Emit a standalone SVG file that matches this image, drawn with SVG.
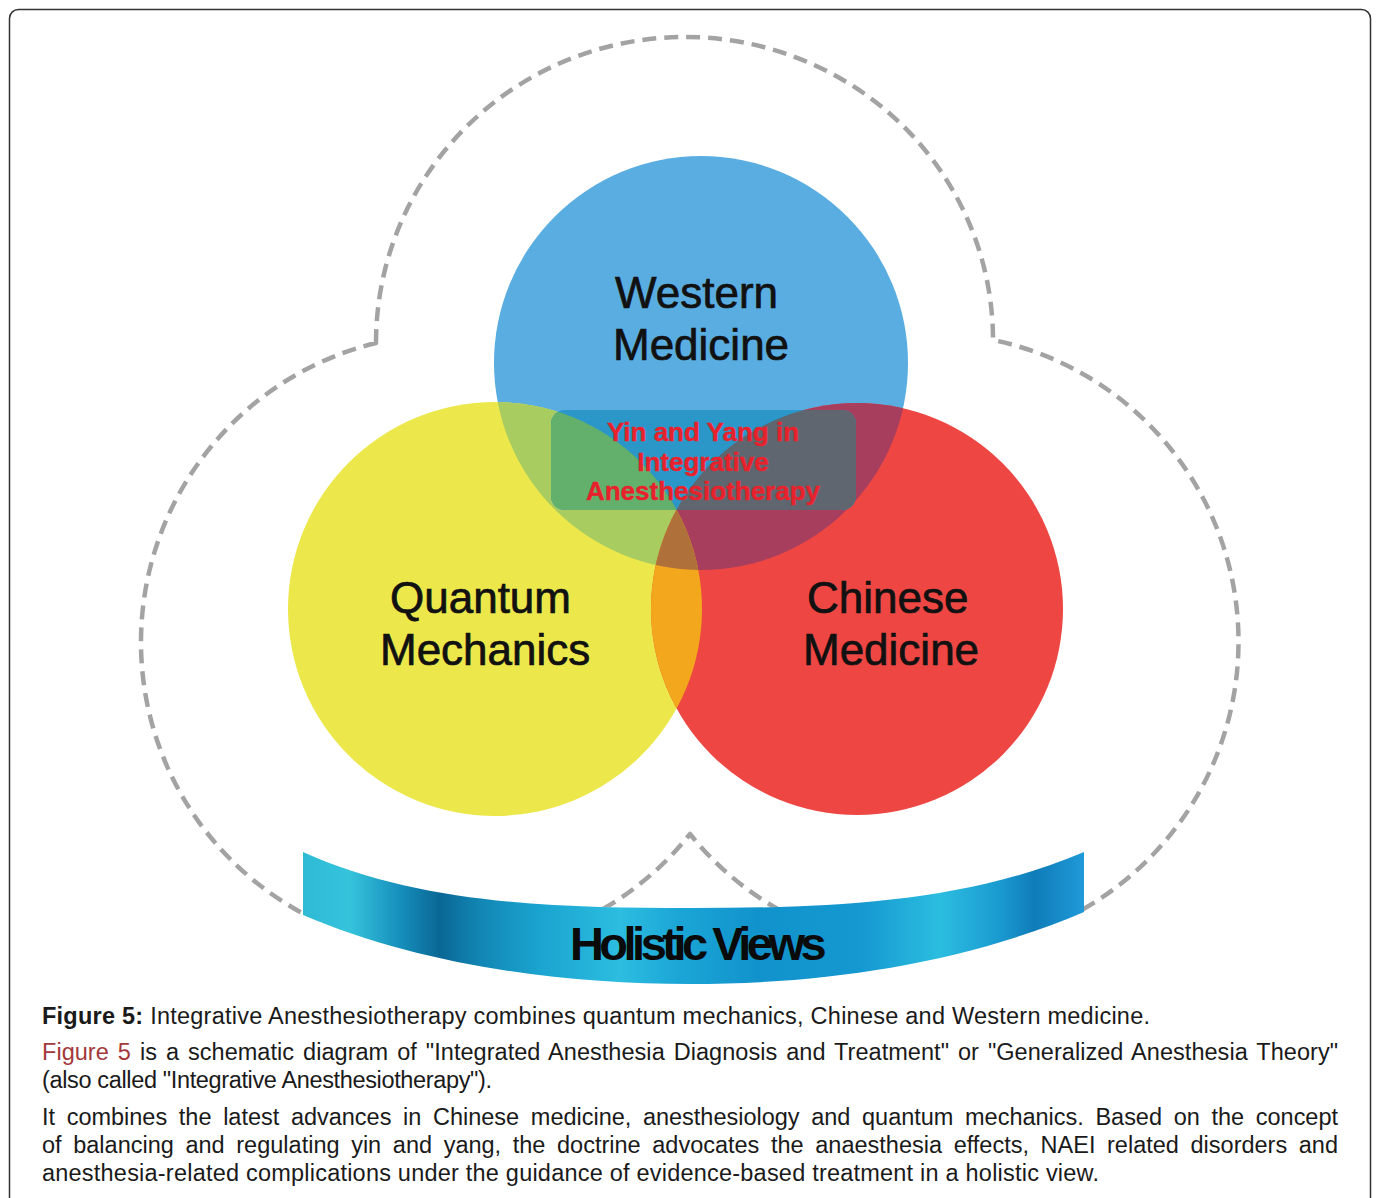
<svg xmlns="http://www.w3.org/2000/svg" width="1376" height="1198" viewBox="0 0 1376 1198">
  <style>
    .label { font-family: "Liberation Sans", Arial, sans-serif; font-size: 44px; fill: #111; stroke: #111; stroke-width: 0.7px; }
    .core { font-family: "Liberation Sans", Arial, sans-serif; font-size: 26px; font-weight: bold; fill: #e8222c; stroke: #e8222c; stroke-width: 0.4px; text-anchor: middle; }
    .cap { font-family: "Liberation Sans", Arial, sans-serif; font-size: 23.5px; fill: #1a1a1a; }
    .dash { fill: none; stroke: #a3a3a3; stroke-width: 4.5; stroke-dasharray: 14 8; stroke-linejoin: round; }
  </style>
  <defs>
    <clipPath id="clipBlue"><circle cx="701" cy="363" r="207"/></clipPath>
    <clipPath id="clipYellow"><circle cx="495" cy="609" r="207"/></clipPath>
    <clipPath id="clipRed"><circle cx="857" cy="609" r="206"/></clipPath>
    <clipPath id="clipPanel"><rect x="551" y="410" width="305" height="100" rx="14"/></clipPath>
    <!-- hides the boundary where it runs behind the ribbon -->
    <mask id="ribbonHide" maskUnits="userSpaceOnUse" x="0" y="0" width="1376" height="1198">
      <rect width="1376" height="1198" fill="#fff"/>
      <path d="M 303 852 C 420 905 560 908 690 908 C 820 908 960 905 1084 852 L 1084 1198 L 303 1198 Z" fill="#000"/>
    </mask>
    <linearGradient id="ribbonGrad" gradientUnits="userSpaceOnUse" x1="303" y1="0" x2="1084" y2="0">
      <stop offset="0" stop-color="#2fbad6"/>
      <stop offset="0.06" stop-color="#35c3dc"/>
      <stop offset="0.124" stop-color="#168fbc"/>
      <stop offset="0.175" stop-color="#0a6795"/>
      <stop offset="0.227" stop-color="#1286b4"/>
      <stop offset="0.30" stop-color="#1aa3cf"/>
      <stop offset="0.406" stop-color="#2cbde0"/>
      <stop offset="0.483" stop-color="#1ba5d6"/>
      <stop offset="0.585" stop-color="#1192cc"/>
      <stop offset="0.713" stop-color="#1598d0"/>
      <stop offset="0.815" stop-color="#2bbde0"/>
      <stop offset="0.892" stop-color="#1a9ad0"/>
      <stop offset="0.937" stop-color="#0f7cb8"/>
      <stop offset="1" stop-color="#1f9ad9"/>
    </linearGradient>
  </defs>

  <rect width="1376" height="1198" fill="#ffffff"/>
  <!-- page frame -->
  <rect x="9.5" y="9.5" width="1361" height="1210" rx="9" fill="none" stroke="#333" stroke-width="1.5"/>

  <!-- dashed cloverleaf boundary -->
  <g id="boundary" mask="url(#ribbonHide)">
    <path class="dash" d="M 376 343 A 309 306 0 0 1 685 37 A 308 303 0 0 1 993 340 A 308 308 0 1 1 690 834 A 308 308 0 1 1 376 343 Z"/>
  </g>

  <!-- three fields -->
  <g id="western"><circle cx="701" cy="363" r="207" fill="#5aade1"/></g>
  <g id="quantum"><circle cx="495" cy="609" r="207" fill="#ece84b"/></g>
  <g id="chinese"><circle cx="857" cy="609" r="206" fill="#ee4743"/></g>

  <!-- overlap lenses -->
  <g id="overlaps">
    <circle cx="495" cy="609" r="207" fill="#a9cc60" clip-path="url(#clipBlue)"/>
    <circle cx="857" cy="609" r="206" fill="#a73e5e" clip-path="url(#clipBlue)"/>
    <circle cx="857" cy="609" r="206" fill="#f2a71d" clip-path="url(#clipYellow)"/>
    <g clip-path="url(#clipBlue)">
      <circle cx="857" cy="609" r="206" fill="#b0703a" clip-path="url(#clipYellow)"/>
    </g>
  </g>

  <!-- central integration panel -->
  <g id="core">
    <rect x="551" y="410" width="305" height="100" rx="14" fill="#2b97c9"/>
    <g clip-path="url(#clipPanel)">
      <circle cx="495" cy="609" r="207" fill="#62b06c"/>
      <circle cx="857" cy="609" r="206" fill="#5f6670"/>
    </g>
    <text class="core" x="703" y="441">Yin and Yang in</text>
    <text class="core" x="703" y="471">Integrative</text>
    <text class="core" x="703" y="500">Anesthesiotherapy</text>
  </g>

  <!-- field labels -->
  <g id="labels">
    <text class="label" x="615" y="308">Western</text>
    <text class="label" x="613" y="360">Medicine</text>
    <text class="label" x="390" y="613">Quantum</text>
    <text class="label" x="380" y="665">Mechanics</text>
    <text class="label" x="807" y="613">Chinese</text>
    <text class="label" x="803" y="665">Medicine</text>
  </g>

  <!-- ribbon -->
  <g id="holistic">
    <path d="M 303 852 C 420 905 560 908 690 908 C 820 908 960 905 1084 852 L 1084 912 C 960 965 820 984 690 984 C 560 984 420 965 303 915 Z" fill="url(#ribbonGrad)"/>
    <text x="696" y="960" text-anchor="middle" font-family="'Liberation Sans', Arial, sans-serif" font-size="47" font-weight="bold" letter-spacing="-4.5" fill="#0a0a0a">Holistic Views</text>
  </g>

  <!-- caption -->
  <g id="caption">
    <text class="cap" x="42" y="1024" textLength="1108" lengthAdjust="spacing"><tspan font-weight="bold">Figure 5:</tspan> Integrative Anesthesiotherapy combines quantum mechanics, Chinese and Western medicine.</text>
    <text class="cap" x="42" y="1060" word-spacing="2.4" textLength="1296" lengthAdjust="spacing"><tspan fill="#a3393a">Figure 5</tspan> is a schematic diagram of "Integrated Anesthesia Diagnosis and Treatment" or "Generalized Anesthesia Theory"</text>
    <text class="cap" x="42" y="1088" textLength="450" lengthAdjust="spacing">(also called "Integrative Anesthesiotherapy").</text>
    <text class="cap" x="42" y="1125" word-spacing="5.2" textLength="1296" lengthAdjust="spacing">It combines the latest advances in Chinese medicine, anesthesiology and quantum mechanics. Based on the concept</text>
    <text class="cap" x="42" y="1153" word-spacing="5.1" textLength="1296" lengthAdjust="spacing">of balancing and regulating yin and yang, the doctrine advocates the anaesthesia effects, NAEI related disorders and</text>
    <text class="cap" x="42" y="1181" textLength="1057" lengthAdjust="spacing">anesthesia-related complications under the guidance of evidence-based treatment in a holistic view.</text>
  </g>
</svg>
